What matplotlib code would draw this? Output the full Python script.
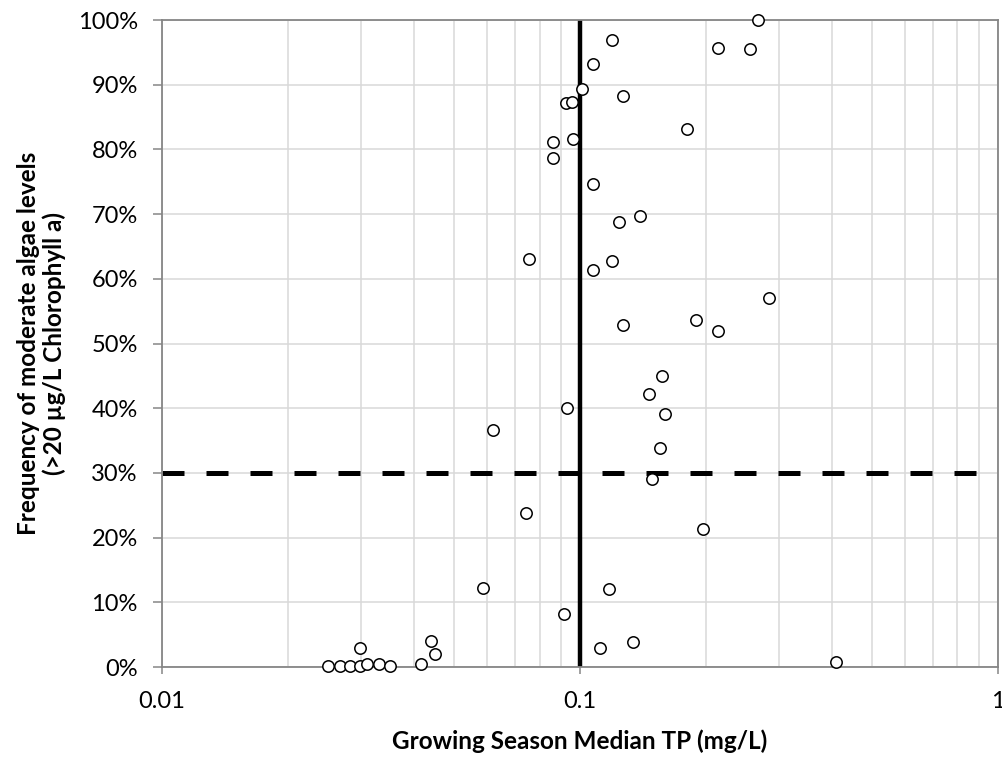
import matplotlib
matplotlib.use("Agg")
import matplotlib.pyplot as plt
from matplotlib.ticker import FixedLocator, FixedFormatter, LogLocator, NullFormatter

plt.rcParams['font.family'] = ['Lato', 'DejaVu Sans']

# growing season median TP (mg/L) and frequency of chl-a > 20 ug/L (%)
tp = [0.025, 0.0266, 0.0281, 0.0297, 0.031, 0.0331, 0.0351, 0.0297,
      0.0417, 0.0439, 0.045, 0.0586, 0.0618, 0.0743, 0.0756,
      0.0864, 0.0864, 0.0916, 0.0924, 0.0933, 0.0958, 0.0964, 0.1011,
      0.1074, 0.1074, 0.1074, 0.1114, 0.1175, 0.1194, 0.1194,
      0.1239, 0.1269, 0.1269, 0.1338, 0.1388, 0.1463, 0.1488,
      0.1552, 0.1572, 0.1598, 0.1803, 0.189, 0.1973, 0.2135, 0.2135,
      0.2545, 0.266, 0.283, 0.41]
freq = [0.15, 0.15, 0.15, 0.15, 0.4, 0.4, 0.15, 3.0,
        0.5, 4.0, 2.0, 12.2, 36.6, 23.8, 63.1,
        81.1, 78.6, 8.2, 87.1, 40.1, 87.3, 81.6, 89.3,
        93.2, 74.7, 61.3, 2.9, 12.1, 96.9, 62.8,
        68.8, 88.3, 52.9, 3.8, 69.7, 42.2, 29.0,
        33.9, 45.0, 39.1, 83.1, 53.6, 21.3, 95.7, 52.0,
        95.5, 100.0, 57.1, 0.8]

tp_target = 0.1
freq_target = 30

x_ticks = [0.01, 0.1, 1]
x_labels = ['0.01', '0.1', '1']
y_ticks = list(range(0, 101, 10))
y_labels = [f'{v}%' for v in y_ticks]

fig = plt.figure(figsize=(10.02, 7.58), dpi=100)
ax = fig.add_axes([0.1617, 0.12, 0.8343, 0.8536])

ax.set_xscale('log')
ax.set_xlim(0.01, 1)
ax.set_ylim(0, 100)

ax.grid(True, which='both', axis='x', color='#d9d9d9', lw=1.1, zorder=0)
ax.grid(True, which='major', axis='y', color='#d9d9d9', lw=1.1, zorder=0)

ax.axvline(tp_target, color='black', lw=3.2, zorder=2)
ax.axhline(freq_target, color='black', lw=3.6, linestyle=(0, (4.4, 4.4)), zorder=2)

ax.plot(tp, freq, linestyle='none', marker='o', markersize=8.2,
        markerfacecolor='white', markeredgecolor='black', markeredgewidth=1.1, zorder=3,
        clip_on=False)

ax.xaxis.set_major_locator(FixedLocator(x_ticks))
ax.xaxis.set_major_formatter(FixedFormatter(x_labels))
ax.xaxis.set_minor_locator(LogLocator(base=10, subs=range(2, 10)))
ax.xaxis.set_minor_formatter(NullFormatter())
ax.set_yticks(y_ticks)
ax.set_yticklabels(y_labels)

ax.tick_params(axis='both', which='major', labelsize=17, color='#868686', width=1.1)
ax.tick_params(axis='y', length=6.5, pad=11)
ax.tick_params(axis='x', length=5, pad=12)
ax.tick_params(axis='x', which='minor', length=0)

for s in ax.spines.values():
    s.set_color('#868686')
    s.set_linewidth(1.3)

ax.set_xlabel('Growing Season Median TP (mg/L)', fontsize=17.5, fontweight='bold', labelpad=13)
ax.set_ylabel('Frequency of moderate algae levels\n(>20 µg/L Chlorophyll a)',
              fontsize=17.5, fontweight='bold', labelpad=8, linespacing=1.15)

fig.savefig('out.png', dpi=100)
